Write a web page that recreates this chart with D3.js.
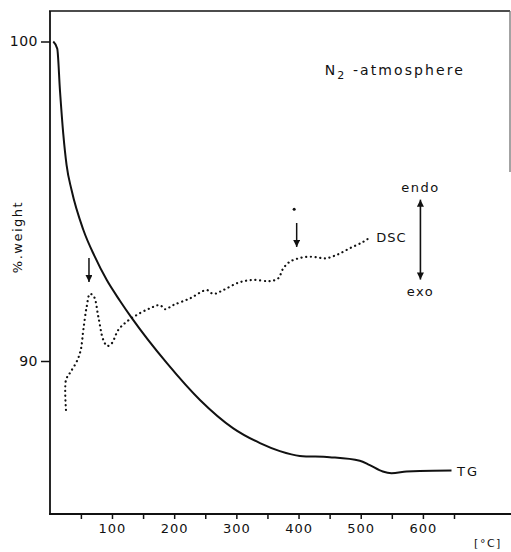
<!DOCTYPE html>
<html>
<head>
<meta charset="utf-8">
<script src="https://cdn.jsdelivr.net/npm/d3@7"></script>
<style>
html,body{margin:0;padding:0;background:#fff;}
svg{display:block;}
text{font-family:"DejaVu Sans",sans-serif;fill:#111;}
</style>
</head>
<body>
<svg id="chart" width="511" height="552"></svg>
<script>
// TG curve: temperature (°C) vs % weight
const tgTemp   = [5.6, 12, 16.4, 21.7, 27, 35, 54, 72, 91.4, 113, 131.7, 188, 241.5, 294.5, 338, 370, 402, 450, 498.5, 514.6, 535.5, 549.5, 573.6, 595, 646];
const tgWeight = [100, 99.77, 98.45, 97.1, 96.13, 95.35, 94.1, 93.28, 92.54, 91.88, 91.35, 89.94, 88.78, 87.9, 87.43, 87.18, 87.03, 86.99, 86.88, 86.74, 86.54, 86.49, 86.54, 86.56, 86.57];
// DSC curve (arbitrary units, drawn on the weight scale)
const dscTemp  = [26, 26, 32.5, 43.2, 49.7, 53.9, 59.3, 64.6, 71.1, 78, 86, 92.4, 99.5, 110.1, 123.6, 139.7, 161.1, 177.2, 185.2, 198.6, 225.4, 252.3, 262.9, 278.9, 303.1, 327.2, 354, 367.4, 375.4, 386.2, 399.5, 413, 429.1, 442.4, 461.3, 482.6, 504, 514.8];
const dscValue = [88.47, 89.41, 89.63, 89.98, 90.34, 90.97, 91.7, 92.1, 92.01, 91.39, 90.66, 90.47, 90.55, 90.97, 91.23, 91.44, 91.65, 91.75, 91.62, 91.75, 91.96, 92.22, 92.1, 92.22, 92.45, 92.54, 92.5, 92.59, 92.9, 93.11, 93.21, 93.26, 93.25, 93.21, 93.32, 93.53, 93.73, 93.87];
// Axis ticks
const xTicks = [50, 100, 150, 200, 250, 300, 350, 400, 450, 500, 550, 600, 650];
const xLabels = [100, 200, 300, 400, 500, 600];
const yTicks = [90, 100];
// Peak marker arrows: [temperature, from, to]
const peakArrows = [[63, 93.22, 92.47], [397, 94.32, 93.57]];

const svg = d3.select("#chart");
const x = d3.scaleLinear().domain([0, 650]).range([49.8, 454]);
const y = d3.scaleLinear().domain([90, 100]).range([361, 41.5]);

const defs = svg.append("defs");
defs.append("marker").attr("id","ah").attr("viewBox","0 0 10 10").attr("refX",10).attr("refY",5)
  .attr("markerWidth",10).attr("markerHeight",7).attr("markerUnits","userSpaceOnUse").attr("orient","auto-start-reverse")
  .append("path").attr("d","M0,0 L10,5 L0,10 Z").attr("fill","#111");

// Frame lines
const frameL = 50, frameB = 514, frameT = 11;
svg.append("line").attr("x1",frameL).attr("x2",frameL).attr("y1",frameT).attr("y2",frameB).attr("stroke","#111").attr("stroke-width",1.8);
svg.append("line").attr("x1",frameL-1).attr("x2",511).attr("y1",frameB).attr("y2",frameB).attr("stroke","#111").attr("stroke-width",1.8);
svg.append("line").attr("x1",frameL-1).attr("x2",510).attr("y1",frameT).attr("y2",frameT).attr("stroke","#111").attr("stroke-width",1.5);
svg.append("line").attr("x1",510).attr("x2",510).attr("y1",frameT).attr("y2",172).attr("stroke","#666").attr("stroke-width",1.2);

// X axis ticks
const xa = svg.append("g").attr("transform",`translate(0,${frameB})`)
  .call(d3.axisBottom(x).tickValues(xTicks).tickSize(5).tickPadding(5)
    .tickFormat(d => xLabels.includes(d) ? d : ""));
xa.select(".domain").remove();
xa.selectAll("line").attr("stroke","#111").attr("stroke-width",1.5);
xa.selectAll("text").attr("font-size",13).attr("letter-spacing",1).attr("fill","#111");

// Y axis ticks
const ya = svg.append("g").attr("transform",`translate(${frameL},0)`)
  .call(d3.axisLeft(y).tickValues(yTicks).tickSize(9).tickPadding(3));
ya.select(".domain").remove();
ya.selectAll("line").attr("stroke","#111").attr("stroke-width",1.5);
ya.selectAll("text").attr("font-size",14).attr("letter-spacing",0.5).attr("fill","#111");

// Axis titles
svg.append("text").attr("transform","translate(22,237) rotate(-90)").attr("text-anchor","middle")
  .attr("font-size",13).attr("letter-spacing",1.5).text("%.weight");
svg.append("text").attr("x",488).attr("y",547).attr("text-anchor","middle")
  .attr("font-size",11).attr("letter-spacing",1.5).text("[°C]");

// TG curve
const tgData = tgTemp.map((t,i)=>[t,tgWeight[i]]);
svg.append("path").datum(tgData)
  .attr("d", d3.line().x(d=>x(d[0])).y(d=>y(d[1])).curve(d3.curveMonotoneX))
  .attr("fill","none").attr("stroke","#111").attr("stroke-width",2);

// DSC curve
const dscData = dscTemp.map((t,i)=>[t,dscValue[i]]);
svg.append("path").datum(dscData)
  .attr("d", d3.line().x(d=>x(d[0])).y(d=>y(d[1])).curve(d3.curveCatmullRom))
  .attr("fill","none").attr("stroke","#111").attr("stroke-width",2.2)
  .attr("stroke-dasharray","0.1,4.6").attr("stroke-linecap","round");

// Peak arrows
peakArrows.forEach(a=>{
  svg.append("line").attr("x1",x(a[0])).attr("x2",x(a[0])).attr("y1",y(a[1])).attr("y2",y(a[2]))
    .attr("stroke","#111").attr("stroke-width",1.5).attr("marker-end","url(#ah)");
});
svg.append("circle").attr("cx",x(393)).attr("cy",y(94.75)).attr("r",1.5).attr("fill","#111");

// Curve labels
svg.append("text").attr("x",x(525)).attr("y",y(93.87)+5).attr("font-size",13).attr("letter-spacing",1).text("DSC");
svg.append("text").attr("x",x(655)).attr("y",y(86.57)+5).attr("font-size",13).attr("letter-spacing",2).text("TG");

// Atmosphere label
const atm = svg.append("text").attr("x",x(442)).attr("y",y(98.95)).attr("font-size",14).attr("letter-spacing",2.1);
atm.append("tspan").text("N");
atm.append("tspan").attr("font-size",11).attr("dy",4).text("2");
atm.append("tspan").attr("dy",-4).text(" -atmosphere");

// endo / exo arrow
svg.append("line").attr("x1",x(596)).attr("x2",x(596)).attr("y1",y(92.55)).attr("y2",y(95.05))
  .attr("stroke","#111").attr("stroke-width",1.6)
  .attr("marker-start","url(#ah)").attr("marker-end","url(#ah)");
svg.append("text").attr("x",x(596)).attr("y",y(95.2)-3).attr("text-anchor","middle").attr("font-size",13).attr("letter-spacing",1.5).text("endo");
svg.append("text").attr("x",x(596)).attr("y",y(92.4)+12).attr("text-anchor","middle").attr("font-size",13).attr("letter-spacing",1.5).text("exo");
</script>
</body>
</html>
